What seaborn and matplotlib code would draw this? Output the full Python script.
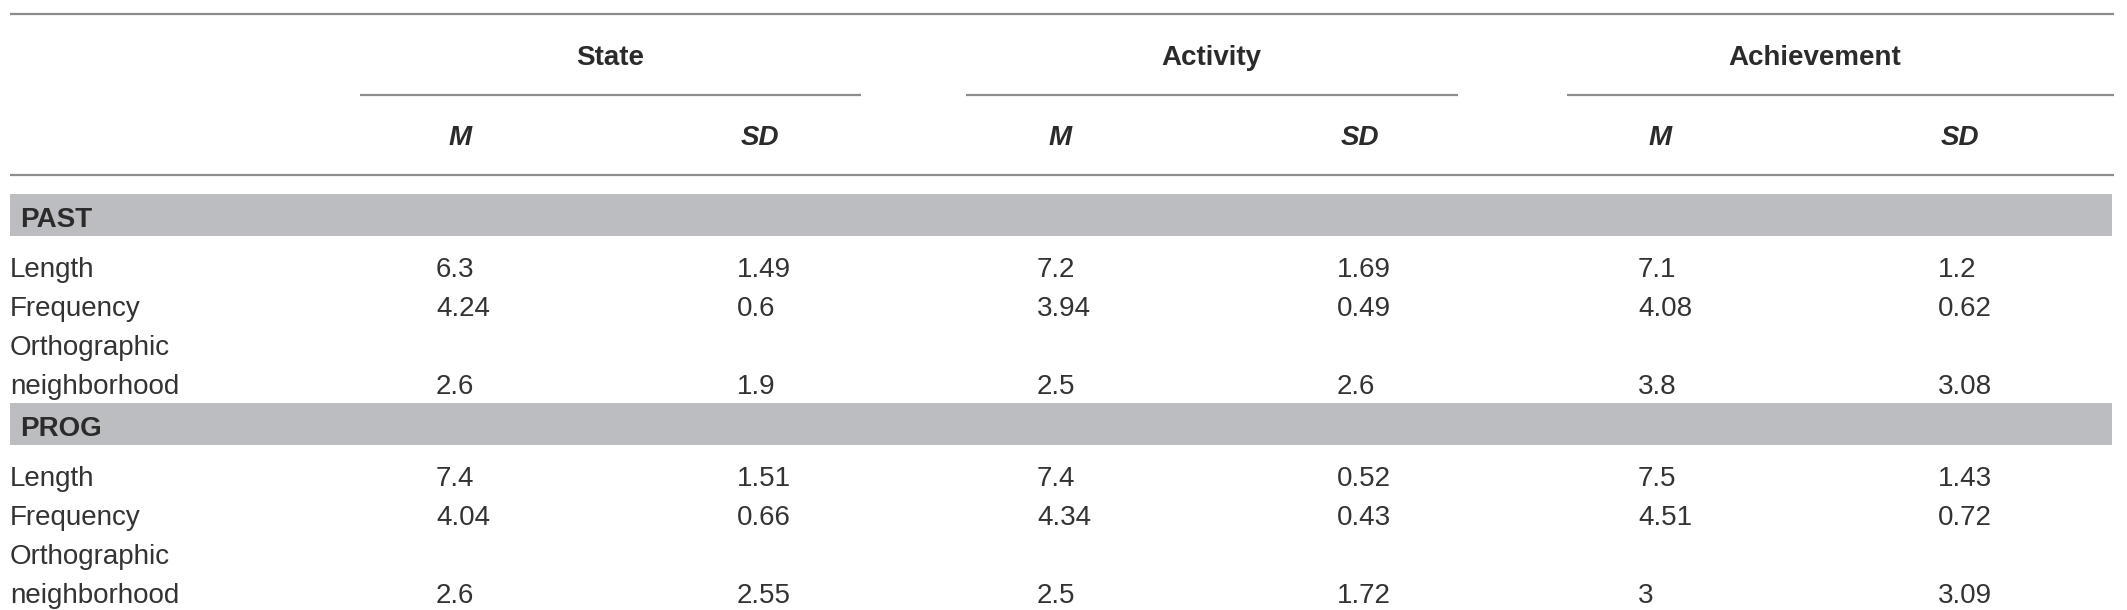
import matplotlib
matplotlib.use("Agg")
import matplotlib.pyplot as plt
import seaborn as sns
import pandas as pd

# table content
groups = ["State", "Activity", "Achievement"]
stats = ["M", "SD"]
sections = ["PAST", "PROG"]
row_labels = ["Length", "Frequency", "Orthographic\nneighborhood"]

past_values = [
    ["6.3", "1.49", "7.2", "1.69", "7.1", "1.2"],
    ["4.24", "0.6", "3.94", "0.49", "4.08", "0.62"],
    ["2.6", "1.9", "2.5", "2.6", "3.8", "3.08"],
]
prog_values = [
    ["7.4", "1.51", "7.4", "0.52", "7.5", "1.43"],
    ["4.04", "0.66", "4.34", "0.43", "4.51", "0.72"],
    ["2.6", "2.55", "2.5", "1.72", "3", "3.09"],
]

sns.set_theme(style="white")
plt.rcParams["font.family"] = ["Liberation Sans", "DejaVu Sans"]

TXT = "#2b2b2b"
BODY = "#333333"
LINE = "#8c8c8c"
BAND = "#bcbdc0"
FS = 20

fig = plt.figure(figsize=(21.27, 6.10), dpi=100)
ax = fig.add_axes([0, 0, 1, 1])
ax.set_xlim(0, 2127)
ax.set_ylim(610, 0)
ax.axis("off")

left, right = 10, 2114
col_x = [436, 737, 1037, 1337, 1638, 1938]        # left edge of number columns
head_x = [460, 760, 1060, 1360, 1660, 1960]       # centers of M / SD headers
group_spans = [(360, 861), (966, 1458), (1567, 2114)]
group_x = [610, 1211, 1815]

# header rules
ax.hlines([14, 175], left, right, color=LINE, lw=1.6)
for (x0, x1), gx, g in zip(group_spans, group_x, groups):
    ax.hlines(95, x0, x1, color=LINE, lw=1.6)
    ax.text(gx, 65, g, ha="center", va="baseline", fontsize=FS,
            fontweight="bold", color=TXT)
for i, hx in enumerate(head_x):
    ax.text(hx, 145, stats[i % 2], ha="center", va="baseline", fontsize=FS,
            fontweight="bold", fontstyle="italic", color=TXT)

df = pd.DataFrame({
    "section": [s for s in sections for _ in row_labels],
    "label": row_labels * 2,
    "values": past_values + prog_values,
})

band_top = {"PAST": 194, "PROG": 403}
for sec in sections:
    top = band_top[sec]
    ax.axhspan(top, top + 42, xmin=left / 2127, xmax=2112 / 2127,
               color=BAND, lw=0)
    ax.text(20, top + 33, sec, ha="left", va="baseline", fontsize=FS,
            fontweight="bold", color=TXT)
    base = top + 83
    sub = df[df["section"] == sec]
    for _, r in sub.iterrows():
        lines = r["label"].split("\n")
        for j, ln in enumerate(lines):
            ax.text(10, base + 39 * j, ln, ha="left", va="baseline",
                    fontsize=FS, color=BODY)
        yv = base + 39 * (len(lines) - 1)
        for cx, v in zip(col_x, r["values"]):
            ax.text(cx, yv, v, ha="left", va="baseline", fontsize=FS, color=BODY)
        base += 39 * len(lines)

fig.savefig("out.png", dpi=100, facecolor="white")
